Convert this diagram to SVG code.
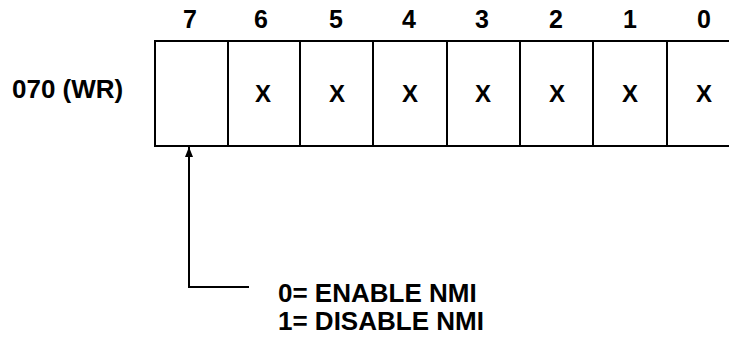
<svg xmlns="http://www.w3.org/2000/svg" width="729" height="338" viewBox="0 0 729 338">
  <style>
    text { font-family: "Liberation Sans", Arial, sans-serif; font-weight: bold; fill: #000; }
    .bit { font-size: 25px; text-anchor: middle; }
    .x { font-size: 24px; text-anchor: middle; }
    .reg { font-size: 26px; }
    .note { font-size: 26px; }
    .cell { fill: #fff; stroke: #000; stroke-width: 2; }
    .wire { fill: none; stroke: #000; stroke-width: 2; }
  </style>
  <defs>
    <marker id="arrow" markerWidth="10" markerHeight="8" refX="10" refY="4" orient="auto" markerUnits="userSpaceOnUse" viewBox="0 0 10 8">
      <path d="M0,0 L10,4 L0,8 Z" fill="#000"/>
    </marker>
  </defs>
  <rect width="729" height="338" fill="#fff"/>

  <!-- register name -->
  <text class="reg" x="12" y="98">070 (WR)</text>

  <!-- bit numbers -->
  <g id="bit-numbers">
    <text class="bit" x="190" y="28">7</text>
    <text class="bit" x="261" y="28">6</text>
    <text class="bit" x="336" y="28">5</text>
    <text class="bit" x="409" y="28">4</text>
    <text class="bit" x="482" y="28">3</text>
    <text class="bit" x="556" y="28">2</text>
    <text class="bit" x="630" y="28">1</text>
    <text class="bit" x="704" y="28">0</text>
  </g>

  <!-- register cells -->
  <g id="bit7"><rect class="cell" x="155" y="41" width="73" height="105"/></g>
  <g id="bit6"><rect class="cell" x="228" y="41" width="72" height="105"/><text class="x" x="263" y="102">X</text></g>
  <g id="bit5"><rect class="cell" x="300" y="41" width="73" height="105"/><text class="x" x="337" y="102">X</text></g>
  <g id="bit4"><rect class="cell" x="373" y="41" width="74" height="105"/><text class="x" x="410" y="102">X</text></g>
  <g id="bit3"><rect class="cell" x="447" y="41" width="73" height="105"/><text class="x" x="483" y="102">X</text></g>
  <g id="bit2"><rect class="cell" x="520" y="41" width="73" height="105"/><text class="x" x="557" y="102">X</text></g>
  <g id="bit1"><rect class="cell" x="593" y="41" width="74" height="105"/><text class="x" x="630" y="102">X</text></g>
  <g id="bit0"><rect class="cell" x="667" y="41" width="80" height="105"/><text class="x" x="704" y="102">X</text></g>

  <!-- connector from the description to bit 7 -->
  <g id="connectors">
    <path class="wire" d="M249,287 L189,287 L189,147" marker-end="url(#arrow)"/>
  </g>

  <!-- bit 7 description -->
  <g id="note">
    <text class="note" x="278" y="302">0= ENABLE NMI</text>
    <text class="note" x="278" y="330">1= DISABLE NMI</text>
  </g>
</svg>
